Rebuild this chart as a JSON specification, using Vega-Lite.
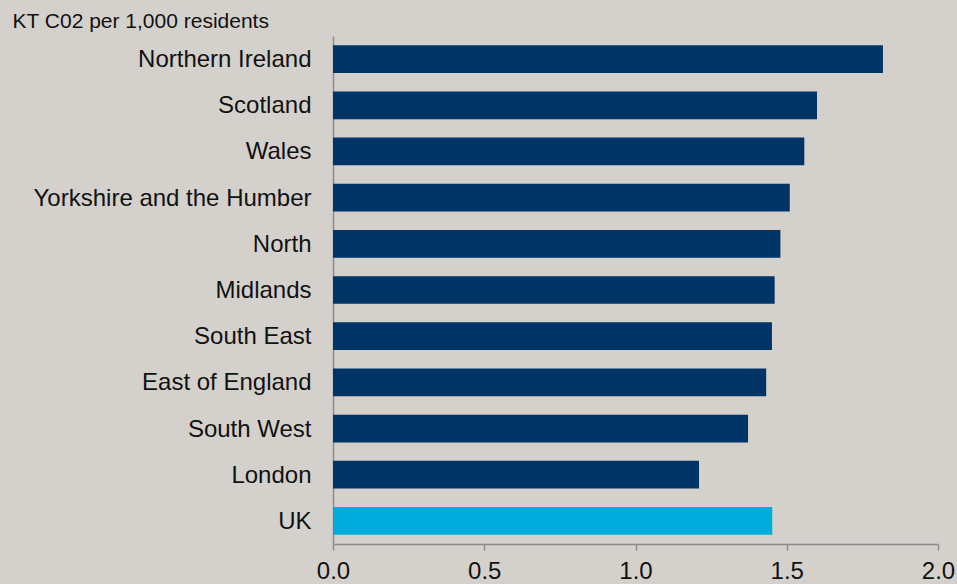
{
  "$schema": "https://vega.github.io/schema/vega-lite/v6.json",
  "width": 605,
  "height": 508,
  "autosize": {"type": "none"},
  "padding": {"left": 333, "top": 36, "right": 19, "bottom": 40},
  "background": "#d4d1cc",
  "config": {
    "view": {"stroke": null},
    "font": "Arial, Liberation Sans",
    "axis": {"labelFont": "Arial, Liberation Sans", "titleFont": "Arial, Liberation Sans", "labelColor": "#111111", "titleColor": "#111111"}
  },
  "data": {
    "values": [
      {"region": "Northern Ireland", "value": 1.818, "group": "Region"},
      {"region": "Scotland", "value": 1.600, "group": "Region"},
      {"region": "Wales", "value": 1.558, "group": "Region"},
      {"region": "Yorkshire and the Humber", "value": 1.510, "group": "Region"},
      {"region": "North", "value": 1.479, "group": "Region"},
      {"region": "Midlands", "value": 1.460, "group": "Region"},
      {"region": "South East", "value": 1.451, "group": "Region"},
      {"region": "East of England", "value": 1.432, "group": "Region"},
      {"region": "South West", "value": 1.372, "group": "Region"},
      {"region": "London", "value": 1.210, "group": "Region"},
      {"region": "UK", "value": 1.452, "group": "UK"}
    ]
  },
  "mark": {"type": "bar"},
  "encoding": {
    "y": {
      "field": "region",
      "type": "nominal",
      "sort": null,
      "scale": {"paddingInner": 0.4, "paddingOuter": 0.2},
      "axis": {
        "title": "KT C02 per 1,000 residents",
        "titleAngle": 0,
        "titleX": -321,
        "titleY": -9,
        "titleAlign": "left",
        "titleBaseline": "alphabetic",
        "titleFontSize": 21,
        "titleFontWeight": "normal",
        "labelFontSize": 24,
        "labelPadding": 22,
        "labelBaseline": "middle",
        "labelOffset": 1,
        "ticks": false,
        "tickSize": 0,
        "domainColor": "#8c8c8c",
        "domainWidth": 1.5,
        "labelLimit": 400
      }
    },
    "x": {
      "field": "value",
      "type": "quantitative",
      "scale": {"domain": [0, 2], "nice": false},
      "axis": {
        "title": null,
        "values": [0, 0.5, 1, 1.5, 2],
        "format": ".1f",
        "grid": false,
        "labelFontSize": 24,
        "labelPadding": 9,
        "tickSize": 6,
        "tickColor": "#8c8c8c",
        "tickWidth": 1.5,
        "domainColor": "#8c8c8c",
        "domainWidth": 1.5,
        "labelFlush": false,
        "labelOverlap": false
      }
    },
    "color": {
      "field": "group",
      "type": "nominal",
      "scale": {"domain": ["Region", "UK"], "range": ["#003366", "#00acdc"]},
      "legend": null
    }
  }
}
